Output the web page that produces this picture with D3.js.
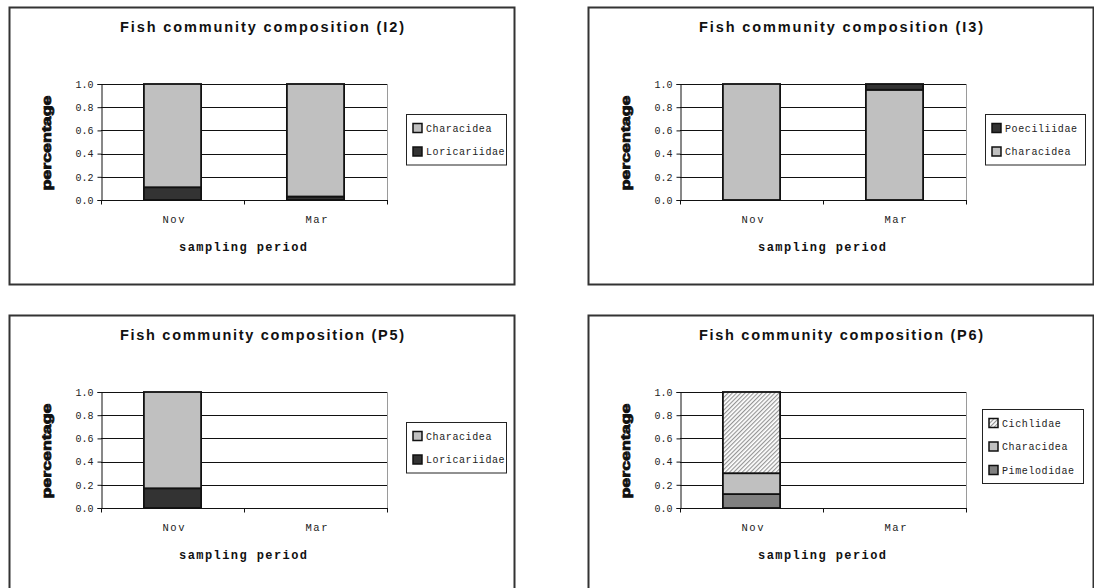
<!DOCTYPE html>
<html>
<head>
<meta charset="utf-8">
<script src="https://cdn.jsdelivr.net/npm/d3@7"></script>
<style>
  html, body { margin: 0; padding: 0; background: #fff; }
  svg { display: block; }
</style>
</head>
<body>
<svg id="chart" width="1094" height="588"></svg>
<script>
// Sampling periods and y axis ticks shared by all four panels
const periods = ["Nov", "Mar"];
const yTicks = [0, 0.2, 0.4, 0.6, 0.8, 1.0];

// Site I2 (proportions, bottom to top)
const i2Loricariidae = [0.11, 0.03];
const i2Characidea = [0.89, 0.97];

// Site I3
const i3Characidea = [1.0, 0.95];
const i3Poeciliidae = [0.0, 0.05];

// Site P5 (no March sample)
const p5Loricariidae = [0.17, null];
const p5Characidea = [0.83, null];

// Site P6 (no March sample)
const p6Pimelodidae = [0.12, null];
const p6Characidea = [0.18, null];
const p6Cichlidae = [0.70, null];

const svg = d3.select("#chart");

// diagonal hatch used for Cichlidae
const defs = svg.append("defs");
const hatch = defs.append("pattern")
  .attr("id", "hatch")
  .attr("patternUnits", "userSpaceOnUse")
  .attr("width", 3).attr("height", 3)
  .attr("patternTransform", "rotate(45)");
hatch.append("rect").attr("width", 3).attr("height", 3).attr("fill", "#ffffff");
hatch.append("line").attr("x1", 0.6).attr("y1", 0).attr("x2", 0.6).attr("y2", 3)
  .attr("stroke", "#909090").attr("stroke-width", 1.1);

const fills = {
  Characidea: "#c0c0c0",
  Loricariidae: "#333333",
  Poeciliidae: "#333333",
  Pimelodidae: "#808080",
  Cichlidae: "url(#hatch)"
};

const panels = [
  { site: "I2", dx: 0, dy: 0,
    series: [["Loricariidae", i2Loricariidae], ["Characidea", i2Characidea]],
    legend: { x: 406, y: 114, w: 100 } },
  { site: "I3", dx: 579, dy: 0,
    series: [["Characidea", i3Characidea], ["Poeciliidae", i3Poeciliidae]],
    legend: { x: 406, y: 114, w: 100 } },
  { site: "P5", dx: 0, dy: 308,
    series: [["Loricariidae", p5Loricariidae], ["Characidea", p5Characidea]],
    legend: { x: 406, y: 114, w: 100 } },
  { site: "P6", dx: 579, dy: 308,
    series: [["Pimelodidae", p6Pimelodidae], ["Characidea", p6Characidea], ["Cichlidae", p6Cichlidae]],
    legend: { x: 403, y: 101, w: 101 } }
];

const plot = { left: 101, right: 387, top: 84, bottom: 200 };
const mono = "'Liberation Mono', 'Courier New', monospace";

panels.forEach(p => {
  const g = svg.append("g").attr("transform", `translate(${p.dx},${p.dy})`);

  // frame
  g.append("rect")
    .attr("x", 9.5).attr("y", 7.5).attr("width", 505).attr("height", 277)
    .attr("fill", "#fff").attr("stroke", "#333").attr("stroke-width", 2);

  // title
  g.append("text")
    .attr("x", 262).attr("y", 32)
    .attr("text-anchor", "middle")
    .attr("font-family", "'Liberation Sans', Arial, sans-serif")
    .attr("font-weight", "bold").attr("font-size", 14.5)
    .attr("textLength", 284).attr("lengthAdjust", "spacing")
    .attr("fill", "#111")
    .text(`Fish community composition (${p.site})`);

  const x = d3.scaleBand().domain(periods)
    .range([plot.left, plot.right]).paddingInner(0.6).paddingOuter(0.3);
  const y = d3.scaleLinear().domain([0, 1]).range([plot.bottom, plot.top]);

  // plot area right edge
  g.append("line")
    .attr("x1", plot.right + 0.5).attr("x2", plot.right + 0.5)
    .attr("y1", plot.top).attr("y2", plot.bottom)
    .attr("stroke", "#9a9a9a").attr("stroke-width", 1);

  // gridlines
  g.append("g").selectAll("line").data(yTicks.filter(t => t > 0)).join("line")
    .attr("x1", plot.left).attr("x2", plot.right)
    .attr("y1", d => Math.round(y(d)) + 0.5).attr("y2", d => Math.round(y(d)) + 0.5)
    .attr("stroke", "#111").attr("stroke-width", 1);

  // stacked bars
  const rows = periods.map((per, i) => {
    const r = { period: per, present: p.series.some(s => s[1][i] != null) };
    p.series.forEach(([name, vals]) => { r[name] = vals[i] == null ? 0 : vals[i]; });
    return r;
  });
  const keys = p.series.map(s => s[0]);
  const stacked = d3.stack().keys(keys)(rows);

  const barG = g.append("g");
  stacked.forEach(layer => {
    barG.selectAll(null)
      .data(layer.filter(d => d.data.present && d[1] - d[0] > 0))
      .join("rect")
      .attr("x", d => x(d.data.period))
      .attr("width", x.bandwidth())
      .attr("y", d => y(d[1]))
      .attr("height", d => y(d[0]) - y(d[1]))
      .attr("fill", fills[layer.key])
      .attr("stroke", "#111").attr("stroke-width", 1.8);
  });

  // y axis
  const yAxis = d3.axisLeft(y).tickValues(yTicks).tickFormat(d3.format(".1f"))
    .tickSize(4).tickPadding(4);
  const ya = g.append("g").attr("transform", `translate(${plot.left + 0.5},0)`).call(yAxis);
  ya.select(".domain").attr("stroke", "#111");
  ya.selectAll(".tick line").attr("stroke", "#111");
  ya.selectAll("text")
    .attr("font-family", mono)
    .attr("font-size", 10).attr("fill", "#222");

  // x axis: ticks sit on the category boundaries
  const xa = g.append("g").attr("transform", `translate(0,${plot.bottom + 0.5})`);
  xa.append("line").attr("x1", plot.left).attr("x2", plot.right + 1)
    .attr("stroke", "#111");
  const bounds = [plot.left, (plot.left + plot.right) / 2, plot.right];
  xa.selectAll(".tk").data(bounds).join("line").attr("class", "tk")
    .attr("x1", d => Math.round(d) + 0.5).attr("x2", d => Math.round(d) + 0.5)
    .attr("y1", 0).attr("y2", 4).attr("stroke", "#111");
  xa.selectAll(".lbl").data(periods).join("text").attr("class", "lbl")
    .attr("x", d => x(d) + x.bandwidth() / 2 + 1)
    .attr("y", 22)
    .attr("text-anchor", "middle")
    .attr("font-family", mono)
    .attr("font-size", 10.5).attr("fill", "#222")
    .attr("textLength", 22).attr("lengthAdjust", "spacing")
    .text(d => d);

  // axis titles
  g.append("text")
    .attr("x", 243).attr("y", 251)
    .attr("text-anchor", "middle")
    .attr("font-family", mono)
    .attr("font-weight", "bold").attr("font-size", 12)
    .attr("textLength", 128).attr("lengthAdjust", "spacing")
    .attr("fill", "#111")
    .text("sampling period");

  g.append("text")
    .attr("transform", `translate(51,${(plot.top + plot.bottom) / 2 + 1}) rotate(-90)`)
    .attr("text-anchor", "middle")
    .attr("font-family", "'Liberation Sans', Arial, sans-serif")
    .attr("font-weight", "bold").attr("font-size", 13)
    .attr("textLength", 95).attr("lengthAdjust", "spacingAndGlyphs")
    .attr("stroke", "#111").attr("stroke-width", 0.8)
    .attr("fill", "#111")
    .text("percentage");

  // legend, listed top of stack first
  const entries = keys.slice().reverse();
  const L = p.legend;
  const rowGap = 23.5;
  const lh = 14 + (entries.length - 1) * rowGap + 13;
  const lg = g.append("g");
  lg.append("rect")
    .attr("x", L.x + 0.5).attr("y", L.y + 0.5).attr("width", L.w).attr("height", lh)
    .attr("fill", "#fff").attr("stroke", "#222").attr("stroke-width", 1);
  const item = lg.selectAll(".item").data(entries).join("g").attr("class", "item")
    .attr("transform", (d, i) => `translate(${L.x + 7},${L.y + 14 + i * rowGap})`);
  item.append("rect")
    .attr("x", 0).attr("y", -4.5).attr("width", 9).attr("height", 9)
    .attr("fill", d => fills[d]).attr("stroke", "#111").attr("stroke-width", 1.5);
  item.append("text")
    .attr("x", 13).attr("y", 3.5)
    .attr("font-family", mono)
    .attr("font-size", 10).attr("letter-spacing", 0.6).attr("fill", "#222")
    .text(d => d);
});
</script>
</body>
</html>
